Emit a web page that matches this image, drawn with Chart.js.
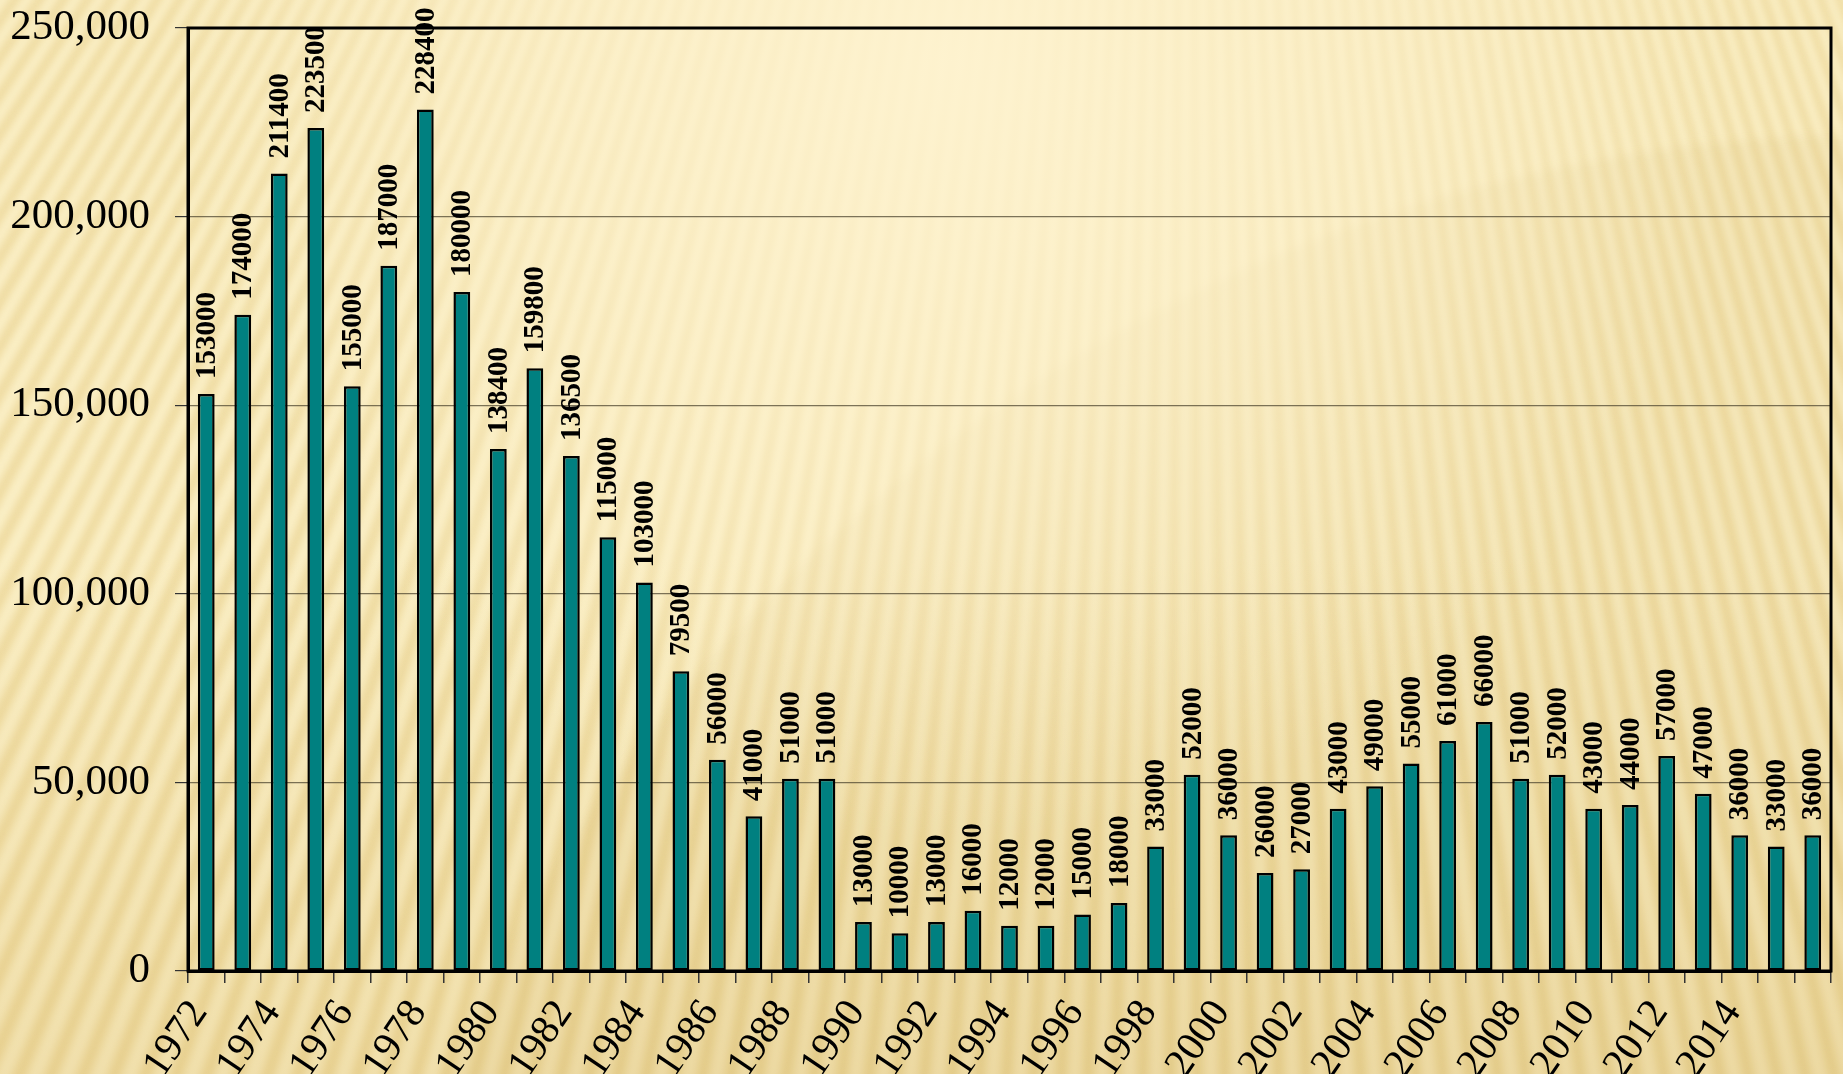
<!DOCTYPE html>
<html>
<head>
<meta charset="utf-8">
<script src="https://cdn.jsdelivr.net/npm/chart.js@4"></script>
<style>
  html, body {
    margin: 0;
    padding: 0;
    width: 1843px;
    height: 1074px;
    overflow: hidden;
    background: #f1dd9f;
  }
  canvas { position: absolute; left: 0; top: 0; display: block; }
</style>
</head>
<body>
<canvas id="backdrop" width="1843" height="1074"></canvas>
<canvas id="foreignChart" width="1843" height="1074"></canvas>
<script>
const years = ['1972', '1973', '1974', '1975', '1976', '1977', '1978', '1979', '1980', '1981',
    '1982', '1983', '1984', '1985', '1986', '1987', '1988', '1989', '1990', '1991',
    '1992', '1993', '1994', '1995', '1996', '1997', '1998', '1999', '2000', '2001',
    '2002', '2003', '2004', '2005', '2006', '2007', '2008', '2009', '2010', '2011',
    '2012', '2013', '2014', '2015', '2016'];

const values = [153000, 174000, 211400, 223500, 155000, 187000, 228400, 180000, 138400, 159800,
    136500, 115000, 103000, 79500, 56000, 41000, 51000, 51000, 13000, 10000,
    13000, 16000, 12000, 12000, 15000, 18000, 33000, 52000, 36000, 26000,
    27000, 43000, 49000, 55000, 61000, 66000, 51000, 52000, 43000, 44000,
    57000, 47000, 36000, 33000, 36000];

// only every other year is written under the axis, and nothing after 2014
const shownYears = ['1972', '1974', '1976', '1978', '1980', '1982', '1984', '1986', '1988', '1990',
    '1992', '1994', '1996', '1998', '2000', '2002', '2004', '2006', '2008', '2010',
    '2012', '2014'];

const yMax = 250000;
const yStep = 50000;

const serif = '"Liberation Serif", "Times New Roman", serif';

// slide background: golden fan of soft stripes, lighter towards the top
function paintBackdrop() {
    const cv = document.getElementById('backdrop');
    const g = cv.getContext('2d');
    const W = cv.width, H = cv.height;
    g.fillStyle = '#efdba0';
    g.fillRect(0, 0, W, H);

    const cx = 1190, cy = -1700, R = 4200;
    const period = 0.0098;
    g.save();
    g.filter = 'blur(4px)';
    g.fillStyle = 'rgba(253, 243, 206, 0.85)';
    for (let a = 1.1; a < 2.35; a += period) {
        g.beginPath();
        g.moveTo(cx, cy);
        g.lineTo(cx + R * Math.cos(a), cy + R * Math.sin(a));
        g.lineTo(cx + R * Math.cos(a + period * 0.55), cy + R * Math.sin(a + period * 0.55));
        g.closePath();
        g.fill();
    }
    g.restore();

    // darker towards the bottom
    let lg = g.createLinearGradient(0, H, 0, H - 520);
    lg.addColorStop(0, 'rgba(205, 168, 80, 0.22)');
    lg.addColorStop(1, 'rgba(205, 168, 80, 0)');
    g.fillStyle = lg;
    g.fillRect(0, 0, W, H);

    // very large soft disc on the right, its rim showing near the top
    g.save();
    g.filter = 'blur(5px)';
    g.fillStyle = 'rgba(195, 158, 70, 0.08)';
    g.beginPath();
    g.arc(1880, 1700, 1565, 0, Math.PI * 2);
    g.fill();
    g.restore();

    // light glow at the top middle
    const rg = g.createRadialGradient(950, 60, 0, 950, 60, 780);
    rg.addColorStop(0, 'rgba(254, 243, 208, 0.95)');
    rg.addColorStop(0.5, 'rgba(254, 243, 208, 0.55)');
    rg.addColorStop(1, 'rgba(254, 243, 208, 0)');
    g.fillStyle = rg;
    g.fillRect(0, 0, W, H);
}
paintBackdrop();

// box around the plot area (top and right sides show in the original)
const plotFrame = {
    id: 'plotFrame',
    beforeDatasetsDraw(chart) {
        const { ctx, chartArea } = chart;
        ctx.save();
        ctx.strokeStyle = '#000';
        ctx.lineWidth = 3;
        ctx.strokeRect(chartArea.left, chartArea.top, chartArea.right - chartArea.left, chartArea.bottom - chartArea.top);
        ctx.restore();
    }
};

// vertical value labels above each bar
const barLabels = {
    id: 'barLabels',
    afterDatasetsDraw(chart) {
        const ctx = chart.ctx;
        const meta = chart.getDatasetMeta(0);
        ctx.save();
        ctx.font = 'bold 29px ' + serif;
        ctx.fillStyle = '#000';
        ctx.textAlign = 'left';
        ctx.textBaseline = 'middle';
        meta.data.forEach((bar, i) => {
            ctx.save();
            ctx.translate(bar.x, bar.y - 15);
            ctx.rotate(-Math.PI / 2);
            ctx.fillText(String(values[i]), 0, 1);
            ctx.restore();
        });
        ctx.restore();
    }
};

new Chart(document.getElementById('foreignChart').getContext('2d'), {
    type: 'bar',
    data: {
        labels: years,
        datasets: [{
            data: values,
            backgroundColor: '#008080',
            borderColor: '#000',
            borderWidth: 2.5,
            borderSkipped: false,
            categoryPercentage: 1,
            barPercentage: 0.46
        }]
    },
    options: {
        responsive: false,
        animation: false,
        layout: {
            padding: { left: 0, right: 12, top: 28, bottom: 0 }
        },
        plugins: {
            legend: { display: false },
            tooltip: { enabled: false }
        },
        scales: {
            x: {
                grid: {
                    offset: true,
                    drawOnChartArea: false,
                    drawTicks: true,
                    tickLength: 12,
                    color: '#333',
                    lineWidth: 1.5
                },
                border: { color: '#000', width: 3 },
                ticks: {
                    autoSkip: false,
                    minRotation: 56,
                    maxRotation: 56,
                    padding: 11,
                    labelOffset: -7,
                    color: '#000',
                    font: { family: serif, size: 41, lineHeight: 1 },
                    callback: function (v, i) {
                        return shownYears.includes(years[i]) ? years[i] : '';
                    }
                },
                afterFit(scale) {
                    scale.height = 103;
                    scale.paddingLeft = 0;
                    scale.paddingRight = 0;
                }
            },
            y: {
                min: 0,
                max: yMax,
                grid: {
                    color: c => c.tick.value === yMax ? '#000' : 'rgba(80, 72, 50, 0.75)',
                    lineWidth: 1.2,
                    tickLength: 13,
                    tickColor: '#333'
                },
                border: { color: '#000', width: 3 },
                ticks: {
                    stepSize: yStep,
                    padding: 25,
                    color: '#000',
                    font: { family: serif, size: 43 },
                    callback: v => v.toLocaleString('en-US')
                },
                afterFit(scale) {
                    scale.width = 188;
                    scale.paddingTop = 0;
                    scale.paddingBottom = 0;
                }
            }
        }
    },
    plugins: [plotFrame, barLabels]
});
</script>
</body>
</html>
